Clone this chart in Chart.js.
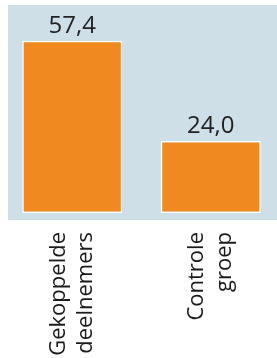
<!DOCTYPE html>
<html>
<head>
<meta charset="utf-8">
<script src="https://cdn.jsdelivr.net/npm/chart.js@4/dist/chart.umd.min.js"></script>
<style>
  html, body { margin: 0; padding: 0; background: #ffffff; overflow: hidden; }
  #wrap { position: absolute; left: -3px; top: 0; width: 283px; height: 358px; }
</style>
</head>
<body>
<div id="wrap"><canvas id="c" width="283" height="358"></canvas></div>
<script>
const categories = [["Gekoppelde", "deelnemers"], ["Controle", "groep"]];
const values = [57.4, 24.0];

const panelBg = {
  id: 'panelBg',
  beforeDraw(chart) {
    const ctx = chart.ctx;
    ctx.save();
    ctx.fillStyle = '#CFDFE8';
    ctx.fillRect(11, 5, 269, 215);
    ctx.restore();
  }
};

const valueLabels = {
  id: 'valueLabels',
  afterDatasetsDraw(chart) {
    const ctx = chart.ctx;
    const meta = chart.getDatasetMeta(0);
    ctx.save();
    ctx.font = '24px "Open Sans"';
    ctx.fillStyle = '#222222';
    ctx.textAlign = 'center';
    ctx.textBaseline = 'alphabetic';
    meta.data.forEach((el, i) => {
      const v = chart.data.datasets[0].data[i];
      ctx.fillText(v.toFixed(1).replace('.', ','), el.x, el.y - 8);
    });
    ctx.restore();
  }
};

new Chart(document.getElementById('c'), {
  type: 'bar',
  data: {
    labels: categories,
    datasets: [{
      data: values,
      backgroundColor: '#F0891F',
      borderColor: '#FFFFFF',
      borderWidth: 1.5,
      borderSkipped: false,
      categoryPercentage: 1.0,
      barPercentage: 0.722
    }]
  },
  options: {
    responsive: false,
    animation: false,
    devicePixelRatio: 1,
    layout: { padding: { left: 6, right: 0, top: 3, bottom: 0 } },
    plugins: { legend: { display: false }, tooltip: { enabled: false } },
    scales: {
      y: { display: false, min: 0, max: 70 },
      x: {
        grid: { display: false, drawTicks: false },
        border: { display: false },
        ticks: {
          minRotation: 90, maxRotation: 90,
          padding: 19,
          labelOffset: -14,
          color: '#1a1a1a',
          font: { family: '"Open Sans"', size: 22, lineHeight: 1.25 }
        },
        afterFit(scale) {
          scale.height = 145;
          scale.paddingLeft = 0;
          scale.paddingRight = 0;
        }
      }
    }
  },
  plugins: [panelBg, valueLabels]
});
</script>
</body>
</html>
